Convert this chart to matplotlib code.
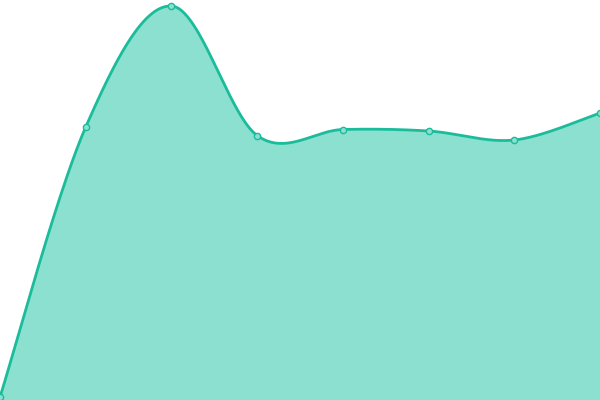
import numpy as np
import matplotlib
matplotlib.use("Agg")
import matplotlib.pyplot as plt

x_vals = [0, 1, 2, 3, 4, 5, 6, 7]
y_vals = [3, 273, 394, 264.5, 270.5, 269, 260, 287]

LINE = "#1abc9c"
FILL = "#8be0cf"


def catmull_rom(xs, ys, n=60):
    xs = np.asarray(xs, float)
    ys = np.asarray(ys, float)
    px = np.concatenate([[xs[0]], xs, [xs[-1]]])
    py = np.concatenate([[ys[0]], ys, [ys[-1]]])
    outx, outy = [], []
    t = np.linspace(0, 1, n)
    for i in range(1, len(px) - 2):
        p0x, p1x, p2x, p3x = px[i - 1:i + 3]
        p0y, p1y, p2y, p3y = py[i - 1:i + 3]
        m1x, m2x = (p2x - p0x) / 2, (p3x - p1x) / 2
        m1y, m2y = (p2y - p0y) / 2, (p3y - p1y) / 2
        h00 = 2 * t**3 - 3 * t**2 + 1
        h10 = t**3 - 2 * t**2 + t
        h01 = -2 * t**3 + 3 * t**2
        h11 = t**3 - t**2
        outx.append(h00 * p1x + h10 * m1x + h01 * p2x + h11 * m2x)
        outy.append(h00 * p1y + h10 * m1y + h01 * p2y + h11 * m2y)
    return np.concatenate(outx), np.concatenate(outy)


sx, sy = catmull_rom(x_vals, y_vals)

fig = plt.figure(figsize=(6, 4), dpi=100)
ax = fig.add_axes([0, 0, 1, 1])
ax.fill_between(sx, 0, sy, color=FILL, linewidth=0, zorder=1)
ax.plot(sx, sy, color=LINE, linewidth=2.0, zorder=2, solid_capstyle="round")
ax.plot(x_vals, y_vals, linestyle="none", marker="o", markersize=4.5,
        markerfacecolor=FILL, markeredgecolor=LINE, markeredgewidth=1.0,
        zorder=3, clip_on=False)
ax.set_xlim(0, 7)
ax.set_ylim(0, 400)
ax.axis("off")
fig.savefig("out.png", dpi=100)
